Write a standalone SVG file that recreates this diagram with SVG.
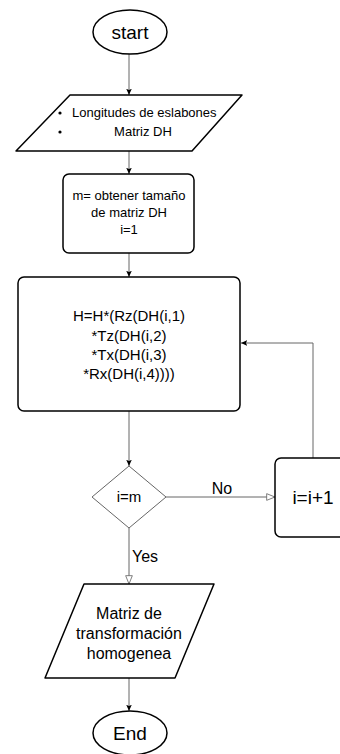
<svg xmlns="http://www.w3.org/2000/svg" width="340" height="754" viewBox="0 0 340 754">
<defs>
<style>
.shape{fill:#fff;stroke:#000;stroke-width:1.5;stroke-linejoin:round}
.conn{fill:none;stroke:#666;stroke-width:1}
.t{font-family:"Liberation Sans",Arial,sans-serif;fill:#000;text-anchor:middle}
</style>
<marker id="af" viewBox="0 0 10 10" refX="9" refY="5" markerWidth="7" markerHeight="7" orient="auto" markerUnits="userSpaceOnUse">
<path d="M0,1 L9,5 L0,9 L2,5 Z" fill="#000"/>
</marker>
<marker id="ao" viewBox="0 0 12 12" refX="11" refY="6" markerWidth="10" markerHeight="10" orient="auto" markerUnits="userSpaceOnUse">
<path d="M1,2 L11,6 L1,10 Z" fill="#fff" stroke="#666" stroke-width="1"/>
</marker>
</defs>
<rect width="340" height="754" fill="#fff"/>
<g id="connectors">
<path class="conn" d="M129,54 V95" marker-end="url(#af)"/>
<path class="conn" d="M129,151 V174" marker-end="url(#af)"/>
<path class="conn" d="M129,253 V277" marker-end="url(#af)"/>
<path class="conn" d="M129,411 V466" marker-end="url(#af)"/>
<path class="conn" d="M166,497 H275" marker-end="url(#ao)"/>
<path class="conn" d="M313,458 V343 H241" marker-end="url(#af)"/>
<path class="conn" d="M129,528 V584" marker-end="url(#ao)"/>
<path class="conn" d="M129,678 V711" marker-end="url(#af)"/>
<text class="t" x="222" y="494" font-size="16">No</text>
<text class="t" x="145" y="562" font-size="16">Yes</text>
</g>
<g id="start">
<ellipse class="shape" cx="130" cy="32" rx="37" ry="22"/>
<text class="t" x="130" y="39" font-size="19">start</text>
</g>
<g id="input">
<path class="shape" d="M70,95 H242 L192,151 H16 Z"/>
<circle cx="60" cy="113" r="1.6" fill="#000"/>
<circle cx="60" cy="132" r="1.6" fill="#000"/>
<text x="72" y="117" font-size="13" font-family="Liberation Sans,Arial,sans-serif" fill="#000">Longitudes de eslabones</text>
<text class="t" x="143" y="136" font-size="13">Matriz DH</text>
</g>
<g id="init">
<rect class="shape" x="63" y="174" width="131" height="79" rx="6"/>
<text class="t" x="129" y="200" font-size="13">m= obtener tamaño</text>
<text class="t" x="129" y="217" font-size="13">de matriz DH</text>
<text class="t" x="129" y="234" font-size="13">i=1</text>
</g>
<g id="compute">
<rect class="shape" x="18" y="277" width="222" height="134" rx="6"/>
<text class="t" x="129" y="321" font-size="15">H=H*(Rz(DH(i,1)</text>
<text class="t" x="129" y="341" font-size="15">*Tz(DH(i,2)</text>
<text class="t" x="129" y="360" font-size="15">*Tx(DH(i,3)</text>
<text class="t" x="129" y="379" font-size="15">*Rx(DH(i,4))))</text>
</g>
<g id="decision">
<path class="shape" d="M129,466 L166,497 L129,528 L92,497 Z" style="stroke:#666;stroke-width:1"/>
<text class="t" x="129" y="502" font-size="15">i=m</text>
</g>
<g id="increment">
<rect class="shape" x="275" y="458" width="76" height="79" rx="6"/>
<text class="t" x="313" y="504" font-size="19">i=i+1</text>
</g>
<g id="output">
<path class="shape" d="M84,584 H214 L175,678 H45 Z"/>
<text class="t" x="129" y="619" font-size="16">Matriz de</text>
<text class="t" x="129" y="639" font-size="16">transformación</text>
<text class="t" x="129" y="659" font-size="16">homogenea</text>
</g>
<g id="end">
<ellipse class="shape" cx="130" cy="733" rx="37" ry="22"/>
<text class="t" x="130" y="740" font-size="19">End</text>
</g>
</svg>
